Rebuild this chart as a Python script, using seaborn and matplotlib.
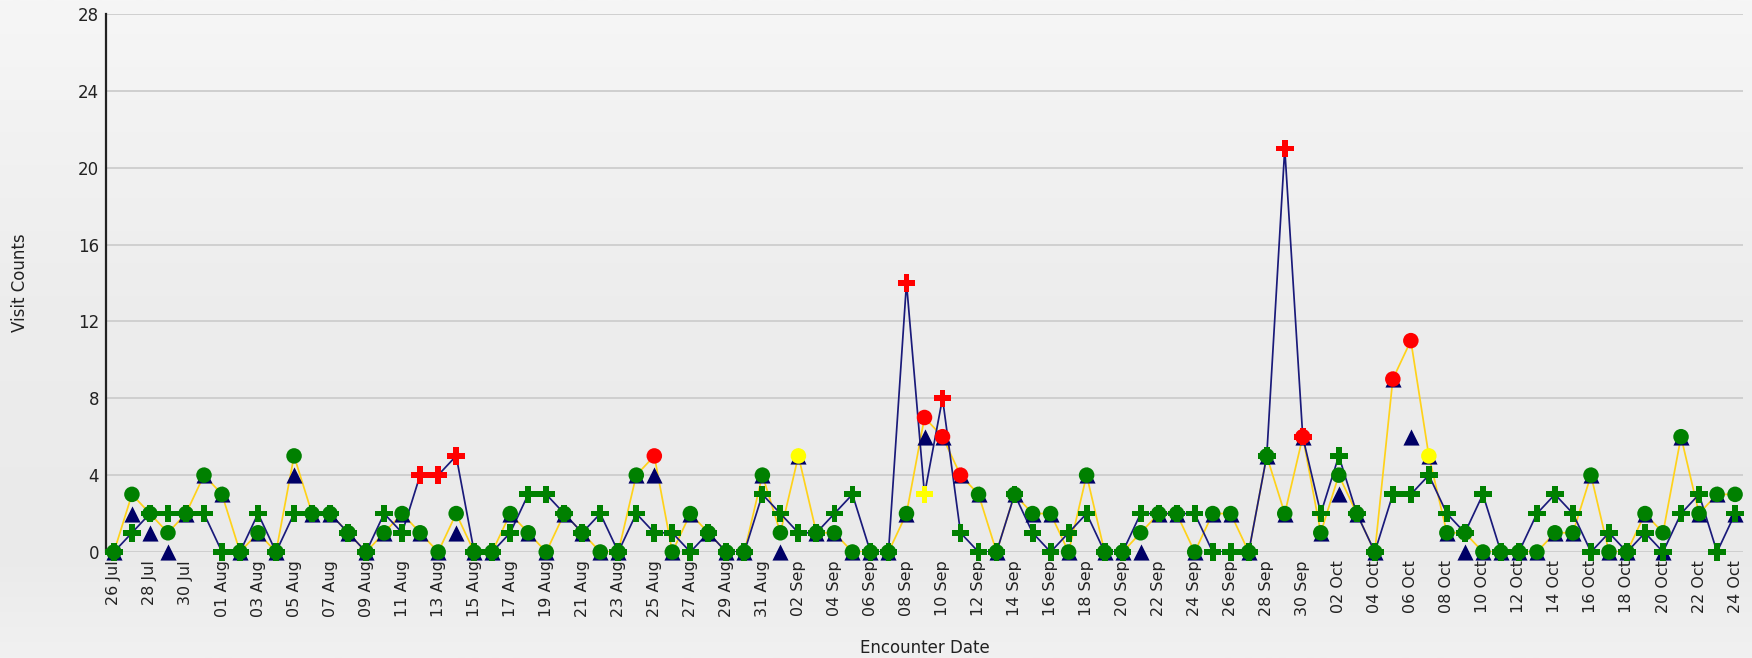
import numpy as np
import pandas as pd
import matplotlib
matplotlib.use("Agg")
import matplotlib.pyplot as plt
import seaborn as sns
from matplotlib.colors import LinearSegmentedColormap

# ---------------- data ----------------
start_date = "2023-07-26"
n_days = 91

# navy line series (plus markers)
plus_counts = [0, 1, 2, 2, 2, 2, 0, 0, 2, 0,
               2, 2, 2, 1, 0, 2, 1, 4, 4, 5,
               0, 0, 1, 3, 3, 2, 1, 2, 0, 2,
               1, 1, 0, 1, 0, 0, 3, 2, 1, 1,
               2, 3, 0, 0, 14, 3, 8, 1, 0, 0,
               3, 1, 0, 1, 2, 0, 0, 2, 2, 2,
               2, 0, 0, 0, 5, 21, 6, 2, 5, 2,
               0, 3, 3, 4, 2, 1, 3, 0, 0, 2,
               3, 2, 0, 1, 0, 1, 0, 2, 3, 0,
               2]

# yellow line series (circle markers)
circle_counts = [0, 3, 2, 1, 2, 4, 3, 0, 1, 0,
                 5, 2, 2, 1, 0, 1, 2, 1, 0, 2,
                 0, 0, 2, 1, 0, 2, 1, 0, 0, 4,
                 5, 0, 2, 1, 0, 0, 4, 1, 5, 1,
                 1, 0, 0, 0, 2, 7, 6, 4, 3, 0,
                 3, 2, 2, 0, 4, 0, 0, 1, 2, 2,
                 0, 2, 2, 0, 5, 2, 6, 1, 4, 2,
                 0, 9, 11, 5, 1, 1, 0, 0, 0, 0,
                 1, 1, 4, 0, 0, 2, 1, 6, 2, 3,
                 3]

# navy triangle series (markers only)
triangle_counts = [0, 2, 1, 0, 2, 4, 3, 0, 1, 0,
                   4, 2, 2, 1, 0, 1, 2, 1, 0, 1,
                   0, 0, 2, 1, 0, 2, 1, 0, 0, 4,
                   4, 0, 2, 1, 0, 0, 4, 0, 5, 1,
                   1, 0, 0, 0, 2, 6, 6, 4, 3, 0,
                   3, 2, 2, 0, 4, 0, 0, 0, 2, 2,
                   0, 2, 2, 0, 5, 2, 6, 1, 3, 2,
                   0, 9, 6, 5, 1, 0, 0, 0, 0, 0,
                   1, 1, 4, 0, 0, 2, 0, 6, 2, 3,
                   2]

# alert days (day index) for marker colouring
plus_red_days = [17, 18, 19, 44, 46, 65, 66]
plus_yellow_days = [45]
circle_red_days = [30, 45, 46, 47, 66, 71, 72]
circle_yellow_days = [38, 73]

x_label = "Encounter Date"
y_label = "Visit Counts"
y_ticks = [0, 4, 8, 12, 16, 20, 24, 28]

# ---------------- build ----------------
dates = pd.date_range(start_date, periods=n_days, freq="D")
days = np.arange(n_days)
tick_pos = days[::2]
tick_labels = [d.strftime("%d %b") for d in dates[::2]]


def status(red, yellow):
    s = np.array(["normal"] * n_days, dtype=object)
    s[red] = "alert"
    s[yellow] = "warning"
    return s


df = pd.DataFrame({
    "day": days,
    "plus": plus_counts,
    "circle": circle_counts,
    "tri": triangle_counts,
    "plus_status": status(plus_red_days, plus_yellow_days),
    "circle_status": status(circle_red_days, circle_yellow_days),
})

status_palette = {"normal": "#008000", "alert": "#ff0000", "warning": "#ffff00"}
navy = "#1a1a7a"
gold = "#ffd21a"

plt.rcParams["font.family"] = ["DejaVu Sans"]

W, H = 1752, 658
fig = plt.figure(figsize=(W / 100, H / 100), dpi=100)

# background gradient
bg = fig.add_axes([0, 0, 1, 1], zorder=-10)
cmap = LinearSegmentedColormap.from_list(
    "bg", [(0.0, "#f6f6f6"), (0.45, "#ededed"), (0.84, "#eaeaea"), (1.0, "#f1f1f1")])
grad = np.linspace(0, 1, 256).reshape(-1, 1)
bg.imshow(grad, aspect="auto", cmap=cmap, extent=[0, 1, 0, 1], origin="upper")
bg.axis("off")

left, right, top, bottom = 106, 1743, 14, 552
ax = fig.add_axes([left / W, 1 - bottom / H, (right - left) / W, (bottom - top) / H])
ax.set_facecolor("none")

# lines
sns.lineplot(data=df, x="day", y="circle", color=gold, lw=1.25, ax=ax, zorder=3)
sns.lineplot(data=df, x="day", y="plus", color=navy, lw=1.25, ax=ax, zorder=3.5)

# markers
sns.scatterplot(data=df, x="day", y="tri", marker="^", s=135, color="#000066",
                linewidth=0, ax=ax, zorder=4, clip_on=False, legend=False)
sns.scatterplot(data=df, x="day", y="circle", hue="circle_status", palette=status_palette,
                marker="o", s=125, linewidth=0, ax=ax, zorder=5, clip_on=False, legend=False)
sns.scatterplot(data=df, x="day", y="plus", hue="plus_status", palette=status_palette,
                marker="P", s=160, linewidth=0, ax=ax, zorder=6, clip_on=False, legend=False)

ax.set_xlim(-0.44, n_days - 1 + 0.44)
ax.set_ylim(0, 28)
ax.set_yticks(y_ticks)
ax.set_yticklabels([str(v) for v in y_ticks])
ax.set_xticks(tick_pos)
ax.set_xticklabels(tick_labels, rotation=90)
ax.tick_params(axis="both", length=0, labelsize=11.5, colors="#222222")
ax.tick_params(axis="y", pad=5, labelsize=12)
ax.tick_params(axis="x", pad=6)

ax.grid(axis="y", color="#cdcdcd", lw=1.3, zorder=0)
ax.grid(axis="x", visible=False)
for side in ["top", "right", "bottom"]:
    ax.spines[side].set_visible(False)
ax.spines["left"].set_color("#222222")
ax.spines["left"].set_linewidth(1.6)
ax.set_axisbelow(True)

ax.set_xlabel(x_label, fontsize=12, color="#222222")
ax.set_ylabel(y_label, fontsize=12, color="#222222")
ax.xaxis.set_label_coords(0.5, -(648 - bottom) / (bottom - top))
ax.xaxis.label.set_va("center")
ax.yaxis.set_label_coords((20 - left) / (right - left), 0.5)
ax.yaxis.label.set_va("center")

fig.savefig("out.png", dpi=100)
